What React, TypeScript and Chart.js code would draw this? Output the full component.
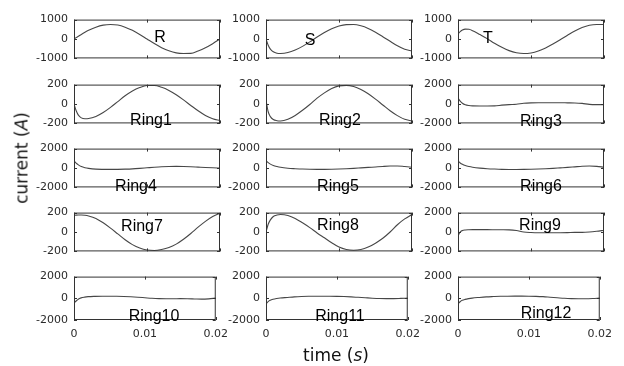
import React, { useEffect, useRef } from "react";
import { Chart, registerables } from "chart.js";

Chart.register(...registerables);

// ---------- data (time in s, currents in A) ----------
const time = [
  0, 0.0003, 0.0006, 0.001, 0.0015, 0.002, 0.003, 0.004, 0.005, 0.006, 0.007, 0.008,
  0.009, 0.01, 0.011, 0.012, 0.013, 0.014, 0.015, 0.016, 0.017, 0.018, 0.019, 0.02,
];

const phaseR = [0, 70, 140, 235, 345, 445, 610, 715, 750, 720, 610, 445, 235, 0, -235, -445, -610, -715, -745, -740, -615, -450, -240, 0];
const phaseS = [0, -320, -520, -660, -730, -745, -700, -570, -380, -150, 100, 330, 530, 670, 740, 745, 680, 545, 350, 120, -120, -350, -530, -620];
const phaseT = [250, 380, 460, 510, 500, 430, 230, 20, -220, -430, -600, -710, -750, -720, -620, -460, -260, -40, 190, 410, 590, 710, 750, 750];

const ring1 = [0, -70, -115, -143, -152, -150, -128, -88, -35, 25, 85, 135, 170, 190, 190, 172, 140, 95, 42, -15, -70, -118, -152, -172];
const ring2 = [40, -80, -130, -160, -172, -175, -158, -118, -65, -5, 60, 115, 160, 187, 192, 180, 150, 105, 50, -10, -70, -120, -158, -175];
const ring3 = [600, 300, 80, -80, -160, -190, -200, -200, -195, -120, -60, -20, 80, 120, 130, 130, 130, 130, 120, 110, 60, -40, -60, -60];
const ring4 = [750, 500, 320, 150, 30, -40, -120, -140, -145, -140, -120, -90, -40, 20, 80, 130, 160, 170, 160, 130, 90, 50, 20, 0];
const ring5 = [750, 550, 400, 260, 150, 70, -20, -70, -110, -130, -140, -140, -130, -110, -80, -40, 10, 60, 110, 160, 200, 210, 150, 80];
const ring6 = [720, 520, 380, 250, 150, 80, -10, -70, -110, -140, -150, -150, -145, -130, -110, -80, -40, 10, 60, 120, 180, 210, 170, 80];
const ring7 = [172, 174, 175, 175, 172, 165, 140, 95, 40, -20, -80, -130, -165, -185, -190, -180, -160, -125, -75, -15, 50, 110, 160, 195];
const ring8 = [0, 80, 125, 160, 175, 180, 170, 140, 95, 45, -10, -60, -110, -155, -180, -188, -180, -155, -115, -65, 0, 75, 135, 180];
const ring9 = [-400, 0, 150, 210, 230, 240, 240, 240, 235, 230, 220, 150, 0, -50, -70, -70, -70, -70, -60, -40, -40, 0, 80, 180];
const ring10 = [-450, -250, -80, 40, 110, 150, 180, 195, 195, 190, 170, 140, 100, 50, 0, -30, -40, -40, -30, -40, -60, -80, -50, 20];
const ring11 = [-530, -300, -180, -90, -20, 30, 80, 130, 165, 185, 195, 195, 190, 180, 160, 130, 90, 50, 10, -20, -30, -30, -10, 20];
const ring12 = [-530, -320, -190, -100, -30, 20, 80, 130, 160, 185, 195, 200, 200, 195, 180, 150, 100, 50, 0, -30, -40, -40, -20, 20];

const panelNames = ["R", "S", "T", "Ring1", "Ring2", "Ring3", "Ring4", "Ring5", "Ring6", "Ring7", "Ring8", "Ring9", "Ring10", "Ring11", "Ring12"];
const panelSeries = [phaseR, phaseS, phaseT, ring1, ring2, ring3, ring4, ring5, ring6, ring7, ring8, ring9, ring10, ring11, ring12];
const yLimits = [1000, 1000, 1000, 200, 200, 2000, 2000, 2000, 2000, 200, 200, 2000, 2000, 2000, 2000];

const xLabel = "time";
const xUnit = "s";
const yLabel = "current";
const yUnit = "A";

// ---------- layout ----------
const COL_LEFT = [74, 266, 458];
const ROW_TOP = [15, 80, 144, 208, 272];
const PLOT_W = 146;
const PLOT_H = 48;
const Y_AXIS_W = 50;
const PAD_TOP = 8;
const PAD_BOTTOM = 8;
const PAD_RIGHT = 16;
const X_AXIS_H = 30;

// name label position inside each plot: [x offset, baseline offset] in px
const namePos: number[][] = [
  [86, 22], [44, 25.7], [30, 23.3],
  [77, 40.7], [74, 40.7], [83, 41.7],
  [62, 42], [72, 42], [83, 42],
  [68, 18], [72, 17], [82, 17],
  [80, 44], [74, 44], [88, 41.3],
];

const TICK_FONT = { family: "'DejaVu Sans', sans-serif", size: 11 };
const TICK_COLOR = "#2a2a2a";

function makeFramePlugin(name: string, pos: number[]) {
  return {
    id: "frame",
    afterDraw(chart: any) {
      const { ctx, chartArea } = chart;
      const { left, top, right, bottom } = chartArea;
      const xs = chart.scales.x;
      const ys = chart.scales.y;
      ctx.save();
      ctx.strokeStyle = "#333";
      ctx.lineWidth = 1;
      ctx.strokeRect(left + 0.5, top + 0.5, right - left - 1, bottom - top - 1);
      const tl = 3;
      ctx.beginPath();
      xs.ticks.forEach((t: any) => {
        const px = Math.round(xs.getPixelForValue(t.value)) + 0.5;
        ctx.moveTo(px, top);
        ctx.lineTo(px, top + tl);
        ctx.moveTo(px, bottom);
        ctx.lineTo(px, bottom - tl);
      });
      ys.ticks.forEach((t: any) => {
        const py = Math.round(ys.getPixelForValue(t.value)) + 0.5;
        ctx.moveTo(left, py);
        ctx.lineTo(left + tl, py);
        ctx.moveTo(right, py);
        ctx.lineTo(right - tl, py);
      });
      ctx.stroke();
      ctx.fillStyle = "#000";
      ctx.font = "16px 'Liberation Sans', Arial, sans-serif";
      ctx.textAlign = "center";
      ctx.textBaseline = "alphabetic";
      ctx.fillText(name, left + pos[0], top + pos[1]);
      ctx.restore();
    },
  };
}

function Panel({ index }: { index: number }) {
  const ref = useRef<HTMLCanvasElement>(null);
  const row = Math.floor(index / 3);
  const col = index % 3;
  const bottomRow = row === 4;
  const width = Y_AXIS_W + PLOT_W + PAD_RIGHT;
  const height = PAD_TOP + PLOT_H + (bottomRow ? X_AXIS_H : PAD_BOTTOM);

  useEffect(() => {
    const lim = yLimits[index];
    const values = panelSeries[index];
    const chart = new Chart(ref.current as HTMLCanvasElement, {
      type: "line",
      data: {
        datasets: [
          {
            data: time.map((t, i) => ({ x: t, y: values[i] })),
            borderColor: "#474747",
            borderWidth: 1.1,
            pointRadius: 0,
            fill: false,
            cubicInterpolationMode: "monotone",
          },
        ],
      },
      options: {
        animation: false,
        responsive: false,
        maintainAspectRatio: false,
        devicePixelRatio: 1,
        events: [],
        layout: {
          autoPadding: false,
          padding: { left: 0, top: PAD_TOP, right: PAD_RIGHT, bottom: bottomRow ? 0 : PAD_BOTTOM },
        },
        plugins: {
          legend: { display: false },
          tooltip: { enabled: false },
          title: { display: false },
        },
        scales: {
          x: {
            type: "linear",
            min: 0,
            max: 0.02,
            display: bottomRow,
            grid: { display: false, drawTicks: false },
            border: { display: false },
            ticks: {
              stepSize: 0.01,
              padding: 8,
              color: TICK_COLOR,
              font: TICK_FONT,
              maxRotation: 0,
              autoSkip: false,
              callback: (v: any) => (Math.abs(Number(v)) < 1e-9 ? "0" : Number(v).toFixed(2)),
            },
            afterFit: (s: any) => {
              s.height = bottomRow ? X_AXIS_H : 0;
            },
          },
          y: {
            type: "linear",
            min: -lim,
            max: lim,
            grid: { display: false, drawTicks: false },
            border: { display: false },
            ticks: {
              stepSize: lim,
              padding: 6,
              color: TICK_COLOR,
              font: TICK_FONT,
              autoSkip: false,
              callback: (v: any) => String(Math.round(Number(v))),
            },
            afterFit: (s: any) => {
              s.width = Y_AXIS_W;
            },
          },
        },
      },
      plugins: [makeFramePlugin(panelNames[index], namePos[index])],
    } as any);
    return () => chart.destroy();
  }, [index]);

  return (
    <canvas
      ref={ref}
      width={width}
      height={height}
      style={{
        position: "absolute",
        left: COL_LEFT[col] - Y_AXIS_W,
        top: ROW_TOP[row] - PAD_TOP,
        width,
        height,
      }}
    />
  );
}

export default function App() {
  return (
    <div
      style={{
        position: "absolute",
        left: 0,
        top: 0,
        width: 624,
        height: 366,
        background: "#fff",
        overflow: "hidden",
      }}
    >
      {panelNames.map((_, i) => (
        <Panel key={i} index={i} />
      ))}
      <div
        style={{
          position: "absolute",
          left: 336,
          top: 355,
          transform: "translate(-50%, -50%)",
          font: "17px 'DejaVu Sans', sans-serif",
          lineHeight: 1,
          whiteSpace: "nowrap",
          color: "#111",
        }}
      >
        {xLabel} (<i>{xUnit}</i>)
      </div>
      <div
        style={{
          position: "absolute",
          left: 22,
          top: 158,
          transform: "translate(-50%, -50%) rotate(-90deg)",
          font: "17px 'DejaVu Sans', sans-serif",
          lineHeight: 1,
          whiteSpace: "nowrap",
          color: "#111",
        }}
      >
        {yLabel} (<i>{yUnit}</i>)
      </div>
    </div>
  );
}
